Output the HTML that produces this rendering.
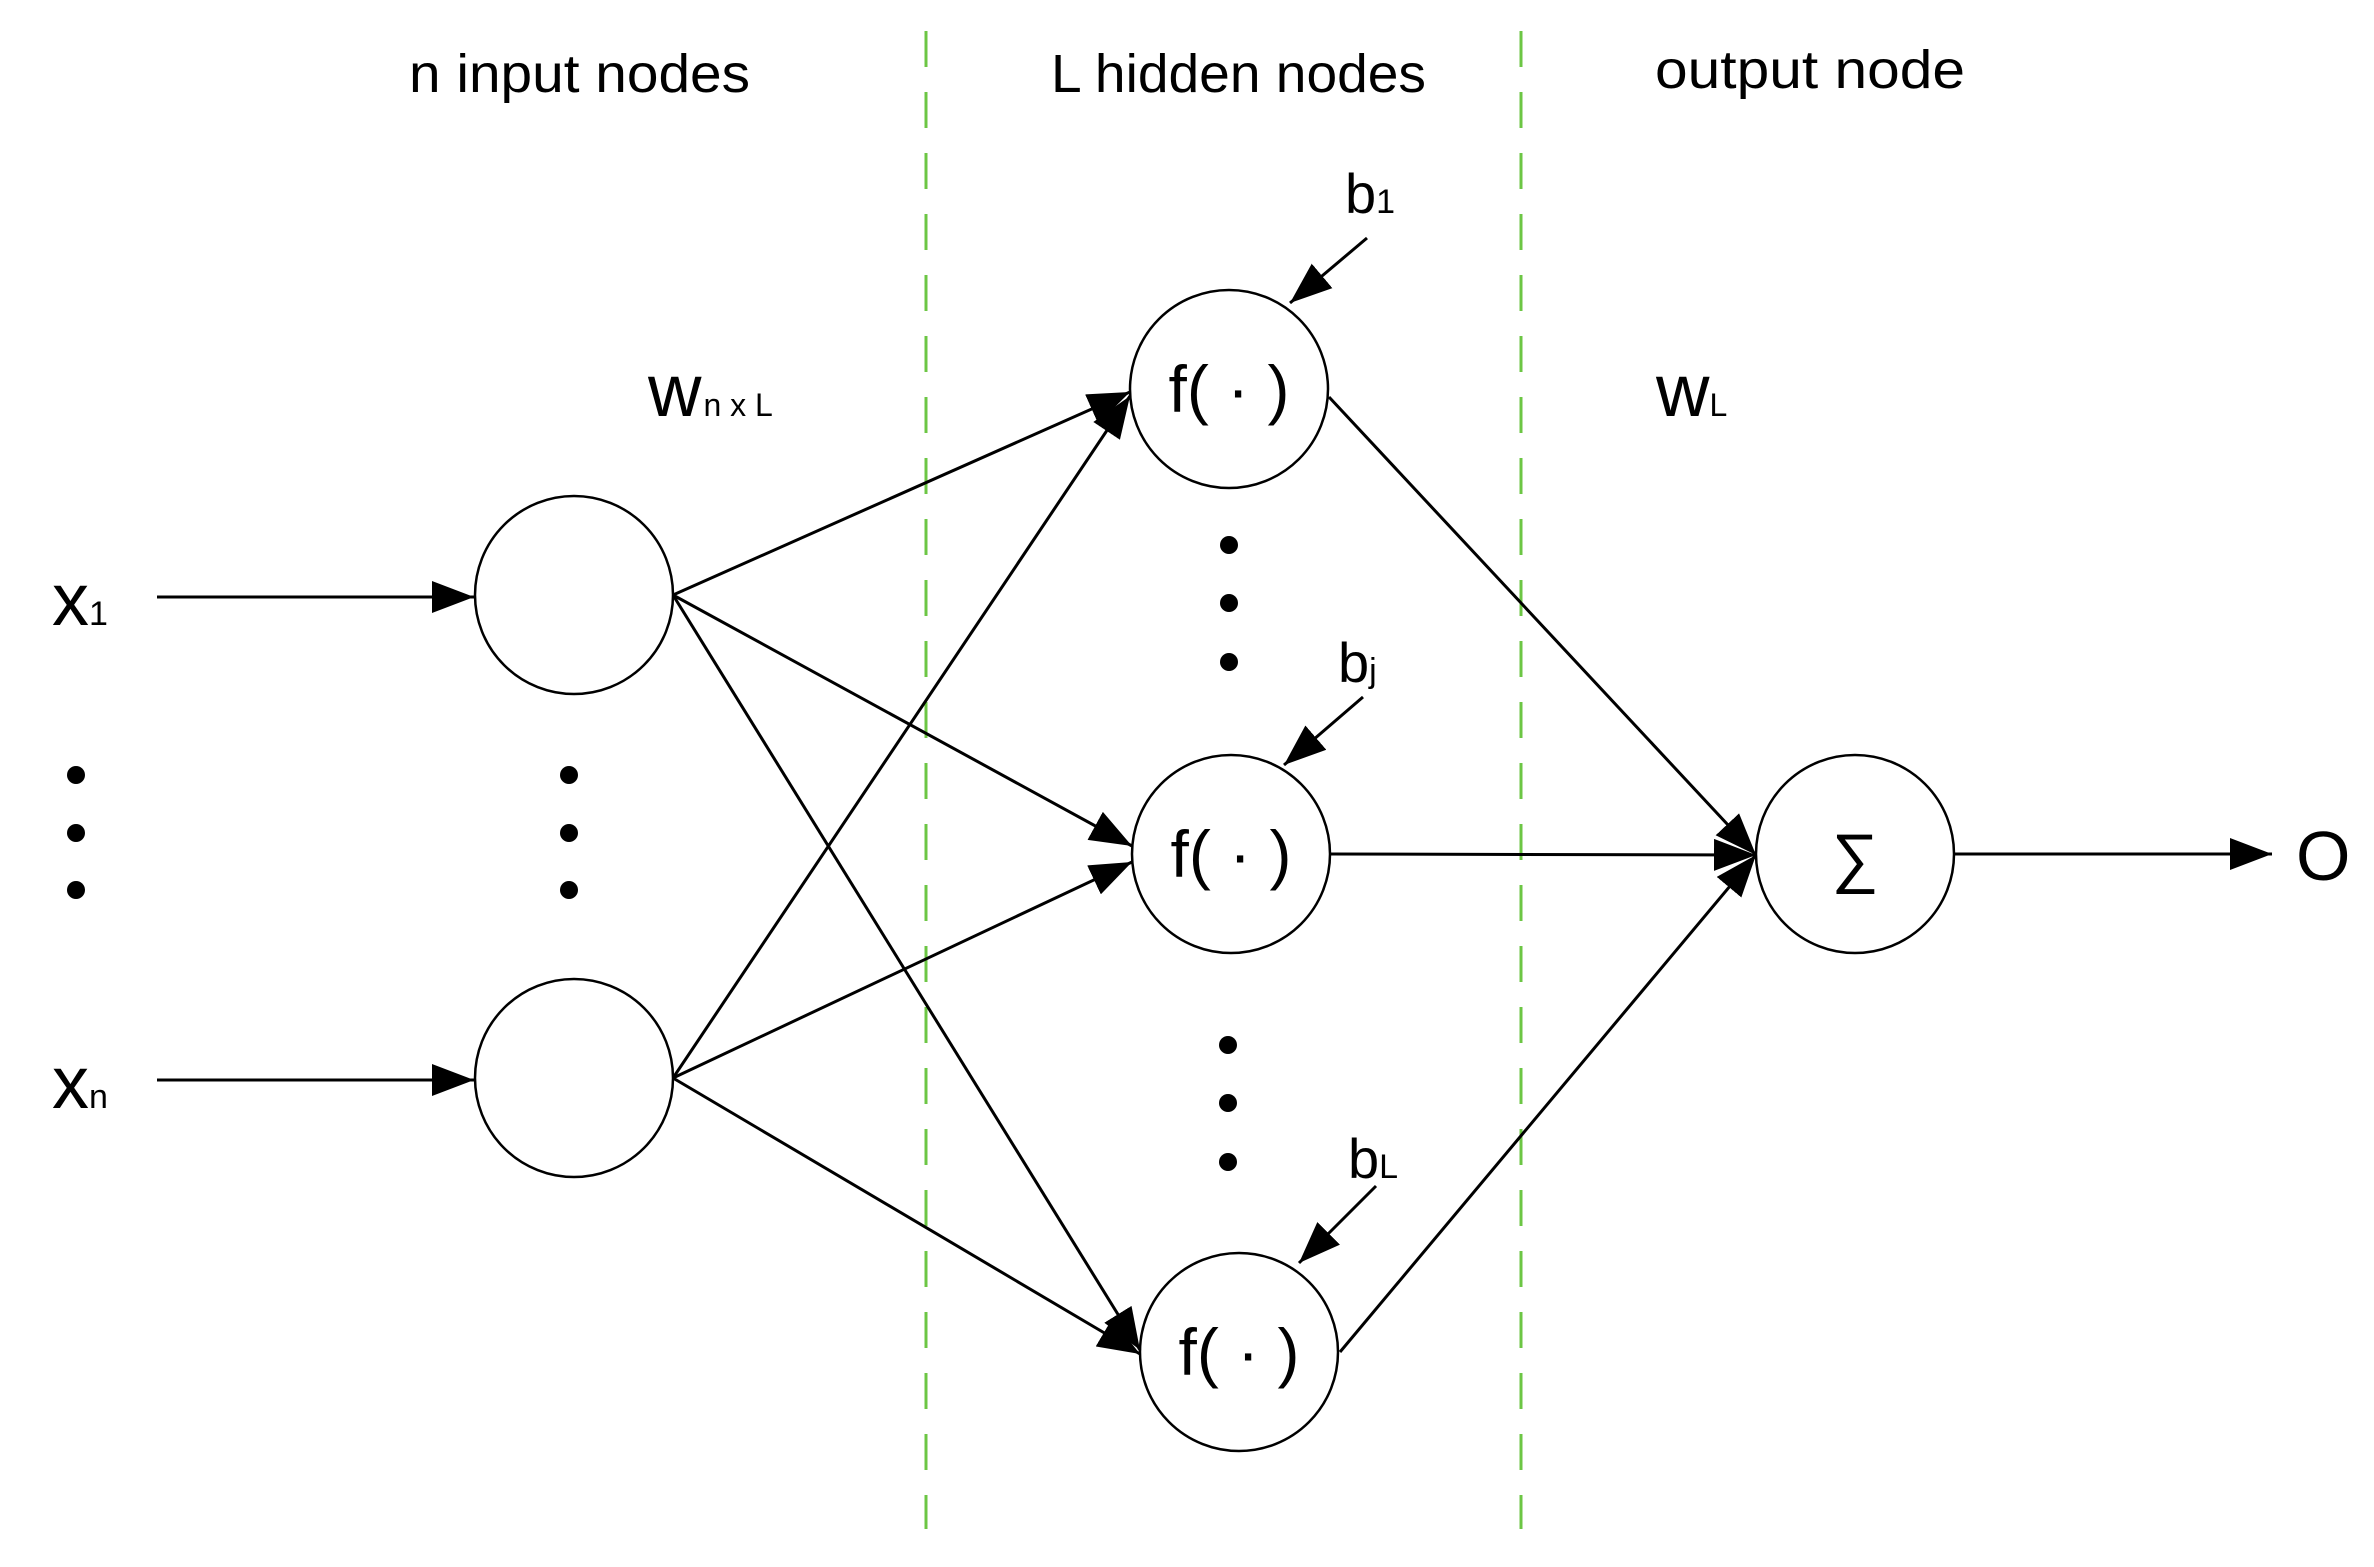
<!DOCTYPE html>
<html><head><meta charset="utf-8"><style>
html,body{margin:0;padding:0;background:#fff}
svg{display:block}
text{font-family:"Liberation Sans",sans-serif;fill:#000}
</style></head><body>
<svg id="s" width="2374" height="1567" viewBox="0 0 2374 1567" xmlns="http://www.w3.org/2000/svg">
<defs><marker id="a" markerUnits="userSpaceOnUse" markerWidth="44" markerHeight="32" refX="42" refY="16" orient="auto"><path d="M0,0 L42,16 L0,32 Z" fill="#000"/></marker></defs>
<g stroke="#6cc644" stroke-width="3" stroke-dasharray="36,25">
<line x1="926" y1="31" x2="926" y2="1529"/><line x1="1521" y1="31" x2="1521" y2="1529"/></g>
<g font-size="54">
<text x="409" y="92" textLength="341" lengthAdjust="spacingAndGlyphs">n input nodes</text>
<text x="1051" y="92" textLength="375" lengthAdjust="spacingAndGlyphs">L hidden nodes</text>
<text x="1655" y="88" textLength="310" lengthAdjust="spacingAndGlyphs">output node</text></g>
<g fill="none" stroke="#000" stroke-width="2.5">
<circle cx="574" cy="595" r="99"/><circle cx="574" cy="1078" r="99"/>
<circle cx="1229" cy="389" r="99"/><circle cx="1231" cy="854" r="99"/><circle cx="1239" cy="1352" r="99"/>
<circle cx="1855" cy="854" r="99"/></g>
<g id="L" stroke="#000" stroke-width="3" fill="none"></g>
<g fill="#000">
<circle cx="76" cy="775" r="9"/><circle cx="76" cy="833" r="9"/><circle cx="76" cy="890" r="9"/>
<circle cx="569" cy="775" r="9"/><circle cx="569" cy="833" r="9"/><circle cx="569" cy="890" r="9"/>
<circle cx="1229" cy="545" r="9"/><circle cx="1229" cy="603" r="9"/><circle cx="1229" cy="662" r="9"/>
<circle cx="1228" cy="1045" r="9"/><circle cx="1228" cy="1103" r="9"/><circle cx="1228" cy="1162" r="9"/></g>
<text x="52" y="625" font-size="74">x<tspan font-size="34">1</tspan></text>
<text x="52" y="1108" font-size="74">x<tspan font-size="34">n</tspan></text>
<text x="648" y="416" font-size="74">w<tspan font-size="32" dx="2">n x L</tspan></text>
<text x="1656" y="416" font-size="74">w<tspan font-size="32">L</tspan></text>
<text x="1345" y="213" font-size="56">b<tspan font-size="34">1</tspan></text>
<text x="1338" y="682" font-size="56">b<tspan font-size="34">j</tspan></text>
<text x="1348" y="1178" font-size="56">b<tspan font-size="34">L</tspan></text>
<g font-size="66" text-anchor="middle">
<text x="1229" y="412">f( · )</text><text x="1231" y="877">f( · )</text><text x="1239" y="1375">f( · )</text>
<text x="1855" y="880">∑</text></g>
<text x="2296" y="880" font-size="70">O</text>
</svg>
<script>
var g=document.getElementById('L');
function ln(x1,y1,x2,y2){var l=document.createElementNS('http://www.w3.org/2000/svg','line');l.setAttribute('x1',x1);l.setAttribute('y1',y1);l.setAttribute('x2',x2);l.setAttribute('y2',y2);l.setAttribute('marker-end','url(#a)');g.appendChild(l);}
ln(157,597,474,597);ln(157,1080,474,1080);
ln(673,595,1130,392);ln(673,1078,1130,396);
ln(673,595,1132,846);ln(673,1078,1132,862);
ln(673,595,1140,1350);ln(673,1078,1140,1354);
ln(1329,397,1756,855);ln(1330,854,1756,855);ln(1340,1352,1756,855);
ln(1953,854,2272,854);
ln(1367,238,1290,303);ln(1363,697,1284,765);ln(1376,1186,1299,1263);
</script>
</body></html>
